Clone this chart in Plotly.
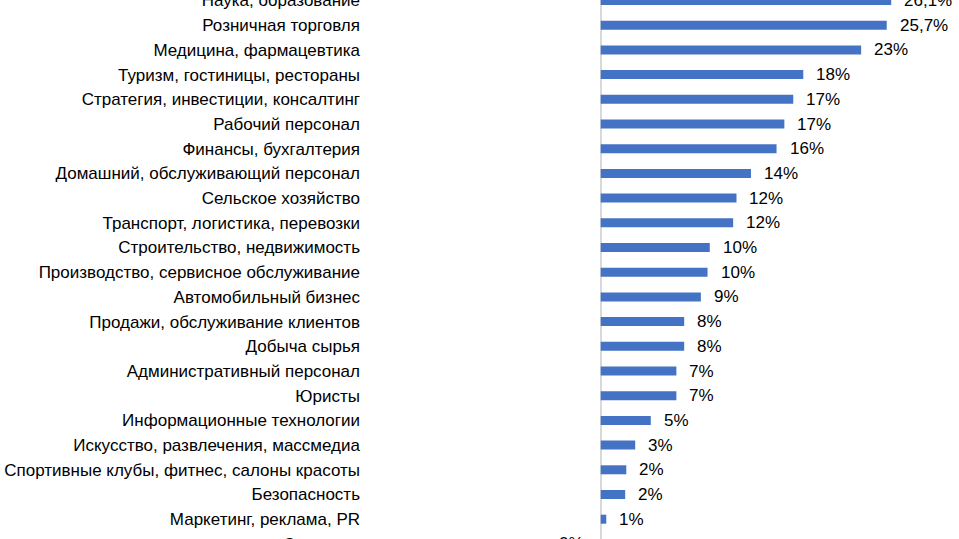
import plotly.graph_objects as go

categories = [
    "Наука, образование",
    "Розничная торговля",
    "Медицина, фармацевтика",
    "Туризм, гостиницы, рестораны",
    "Стратегия, инвестиции, консалтинг",
    "Рабочий персонал",
    "Финансы, бухгалтерия",
    "Домашний, обслуживающий персонал",
    "Сельское хозяйство",
    "Транспорт, логистика, перевозки",
    "Строительство, недвижимость",
    "Производство, сервисное обслуживание",
    "Автомобильный бизнес",
    "Продажи, обслуживание клиентов",
    "Добыча сырья",
    "Административный персонал",
    "Юристы",
    "Информационные технологии",
    "Искусство, развлечения, массмедиа",
    "Спортивные клубы, фитнес, салоны красоты",
    "Безопасность",
    "Маркетинг, реклама, PR",
    "Студенты",
]
values = [26.1, 25.7, 23.4, 18.2, 17.3, 16.5, 15.8, 13.5, 12.2, 11.9, 9.8, 9.6,
          9.0, 7.5, 7.5, 6.8, 6.8, 4.5, 3.1, 2.3, 2.2, 0.5, 0.0]
value_labels = ["26,1%", "25,7%", "23%", "18%", "17%", "17%", "16%", "14%", "12%",
                "12%", "10%", "10%", "9%", "8%", "8%", "7%", "7%", "5%", "3%",
                "2%", "2%", "1%", "0%"]

FONT = "Liberation Sans Narrow, Arial Narrow, Liberation Sans, Arial, sans-serif"
W, H = 959, 580
ML = 361
ROW = 24.7
ZERO_PX = 600.7
PX_PER = 11.13

x0 = -(ZERO_PX - ML) / PX_PER
x1 = x0 + (W - ML) / PX_PER
y_top = -0.5 / ROW
y_bot = y_top + H / ROW

fig = go.Figure(go.Bar(
    x=values, y=categories, orientation="h",
    marker=dict(color="#4472C4", line=dict(width=0)),
    hoverinfo="skip",
))

for c, v, t in zip(categories, values, value_labels):
    fig.add_annotation(
        x=v, y=c, xref="x", yref="y", text=t, showarrow=False,
        xanchor="left" if v > 0 else "right",
        xshift=11 if v > 0 else -15,
        yanchor="middle",
        font=dict(family=FONT, size=17, color="#000000"),
    )

fig.update_layout(
    width=W, height=H,
    margin=dict(l=ML, r=0, t=0, b=0, autoexpand=False),
    paper_bgcolor="white", plot_bgcolor="white",
    bargap=1 - 9 / ROW,
    showlegend=False,
    font=dict(family=FONT, size=17, color="#000000"),
)
fig.update_xaxes(range=[x0, x1], showgrid=False, showticklabels=False, ticks="",
                 zeroline=True, zerolinecolor="#D9D9D9", zerolinewidth=2,
                 showline=False, fixedrange=True, automargin=False)
fig.update_yaxes(type="category", categoryorder="array", categoryarray=categories,
                 range=[y_bot, y_top], showgrid=False, ticks="", showline=False,
                 automargin=False,
                 tickfont=dict(family=FONT, size=17, color="#000000"), fixedrange=True)

fig.write_html(
    "out.html",
    config={"displayModeBar": False},
    post_script="document.documentElement.style.overflow='hidden';document.body.style.overflow='hidden';document.body.style.margin='0';",
)
